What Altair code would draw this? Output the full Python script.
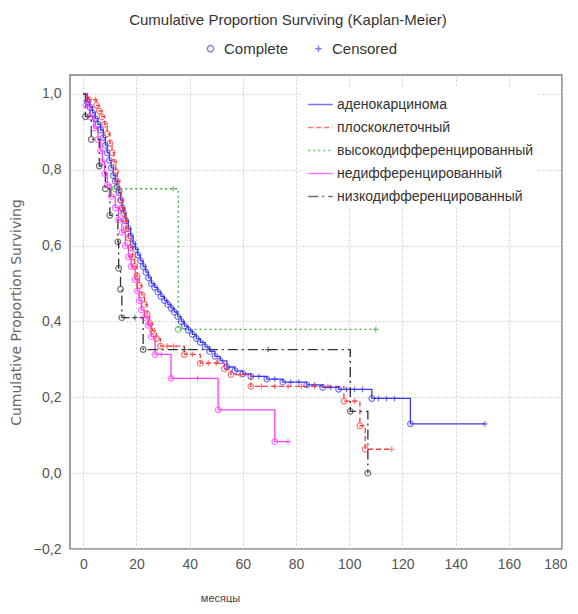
import altair as alt
import pandas as pd

GROUPS = ["аденокарцинома", "плоскоклеточный", "высокодифференцированный",
          "недифференцированный", "низкодифференцированный"]
COLORS = ["#3a3af0", "#ff3c3c", "#3caa3c", "#ff3cff", "#333333"]
DASHES = [[1, 0], [5, 3], [2, 3], [1, 0], [10, 4, 2, 4]]

# status codes: S = start of curve (no marker), C = Complete, X = Censored

# аденокарцинома
ADENO_T = [0, 1.5, 2.5, 3.5, 4.5, 5.5, 6.5, 7.5, 8.3, 9.0, 9.8, 10.5, 11.3, 12.0, 12.7, 13.3,
           14.0, 14.6, 15.2, 16.0, 16.9, 17.8, 18.7, 19.6, 20.5, 21.5, 22.5, 23.5, 24.5, 25.6,
           26.8, 28.0, 29.2, 30.5, 31.8, 33.0, 34.2, 35.5, 36.8, 38.0, 39.5, 41.0, 42.5, 44.0,
           45.8, 47.5, 49.5, 51.5, 54, 57, 60, 63, 66, 69, 72, 75, 78, 81, 84, 87, 90, 93, 96,
           99, 102, 105, 108.5, 111, 114, 117, 123, 151]
ADENO_S = [1.0, 0.98, 0.965, 0.95, 0.935, 0.92, 0.905, 0.885, 0.865, 0.845, 0.825, 0.805, 0.785,
           0.77, 0.755, 0.74, 0.72, 0.70, 0.685, 0.665, 0.645, 0.625, 0.605, 0.59, 0.575, 0.56,
           0.545, 0.53, 0.515, 0.50, 0.49, 0.478, 0.466, 0.455, 0.445, 0.435, 0.425, 0.413, 0.40,
           0.388, 0.377, 0.366, 0.355, 0.345, 0.333, 0.321, 0.308, 0.296, 0.28, 0.27, 0.262,
           0.255, 0.255, 0.248, 0.248, 0.24, 0.24, 0.24, 0.233, 0.233, 0.226, 0.226, 0.221, 0.221,
           0.221, 0.221, 0.197, 0.197, 0.197, 0.197, 0.13, 0.13]
ADENO_ST = ("S" + "CCCCCCCCCC" + "CCCCCCCCCC" + "CCCCCCCCCC" + "CCCCCCCCCC" + "CCCCCCCCC"
            + "CCXCXCXXCXCXCXXXCXXXCX")

# плоскоклеточный
SQ_T = [0, 2, 4.5, 5, 6, 7, 8, 9, 10, 10.8, 11.5, 12.2, 12.8, 13.5, 14.2, 14.8, 15.5, 16.2, 17,
        17.8, 18.5, 19.3, 20.2, 21, 22, 23, 24, 25, 26, 27.5, 29, 31.5, 34, 38, 41, 44, 47, 50,
        53, 55.5, 59, 63, 67, 72, 77, 82, 87, 92, 98, 102, 104, 106, 116]
SQ_S = [1.0, 0.985, 0.985, 0.97, 0.955, 0.94, 0.92, 0.895, 0.87, 0.845, 0.82, 0.795, 0.77, 0.745,
        0.72, 0.695, 0.67, 0.645, 0.62, 0.595, 0.57, 0.545, 0.52, 0.495, 0.47, 0.445, 0.42,
        0.395, 0.375, 0.355, 0.335, 0.335, 0.335, 0.313, 0.313, 0.29, 0.29, 0.29, 0.275, 0.26,
        0.26, 0.229, 0.229, 0.229, 0.229, 0.229, 0.229, 0.229, 0.19, 0.19, 0.125, 0.063, 0.063]
SQ_ST = ("SCX" + "CCCCCCCCCCCCCCCCCCCCCCCCCCCC"
         + "XXCXCXXCCXCXXXXXXCXCCX")

# высокодифференцированный
HI_T = [12, 33.8, 35.7, 110]
HI_S = [0.75, 0.75, 0.379, 0.379]
HI_ST = "CXCX"

# недифференцированный
UN_T = [0, 1, 2.5, 4, 5.5, 6.5, 7.2, 8, 9, 10.5, 12, 13.2, 14.5, 15.8, 17, 18, 19.5, 20.3, 21,
        21.8, 23, 24.4, 25.6, 27, 29.3, 33, 43, 50.7, 72, 77]
UN_S = [1.0, 0.97, 0.94, 0.91, 0.88, 0.85, 0.82, 0.79, 0.76, 0.73, 0.70, 0.668, 0.635, 0.60,
        0.57, 0.545, 0.51, 0.48, 0.455, 0.43, 0.41, 0.39, 0.36, 0.313, 0.313, 0.25, 0.25,
        0.167, 0.083, 0.083]
UN_ST = "S" + "CCCCCCCCCCCCCCCCCCCCCCC" + "XCXCCX"

# низкодифференцированный
LO_T = [0, 0.8, 3, 6, 8.3, 10, 13.0, 13.3, 14, 14.5, 19.4, 22.5, 38, 69.5, 100.4, 107]
LO_S = [1.0, 0.94, 0.88, 0.81, 0.75, 0.68, 0.61, 0.54, 0.485, 0.41, 0.41, 0.326, 0.326, 0.326,
        0.163, 0.0]
LO_ST = "S" + "CCCCCCCCC" + "XCXXCC"

X_TICKS = [0, 20, 40, 60, 80, 100, 120, 140, 160, 180]
Y_TICKS = [-0.2, 0.0, 0.2, 0.4, 0.6, 0.8, 1.0]

STATUS_NAME = {"S": "start", "C": "Complete", "X": "Censored"}

rows = []
for g, T, S, ST in zip(GROUPS, [ADENO_T, SQ_T, HI_T, UN_T, LO_T],
                       [ADENO_S, SQ_S, HI_S, UN_S, LO_S],
                       [ADENO_ST, SQ_ST, HI_ST, UN_ST, LO_ST]):
    n = min(len(T), len(S), len(ST))
    for t, s, st in zip(T[:n], S[:n], ST[:n]):
        rows.append({"group": g, "t": t, "s": s, "status": STATUS_NAME[st]})
df = pd.DataFrame(rows)

FONT = "Liberation Sans"

x_enc = alt.X("t:Q", scale=alt.Scale(domain=[-5, 180], nice=False, zero=False),
              axis=alt.Axis(values=X_TICKS, title="месяцы", titleX=150, titleY=43,
                            titleFontSize=11, titleFontWeight="normal", titleColor="#444",
                            labelFontSize=14, labelColor="#555", labelPadding=8, ticks=False,
                            labelFlush=True, labelFlushOffset=5, domain=False, grid=True))
y_enc = alt.Y("s:Q", scale=alt.Scale(domain=[-0.2, 1.05], nice=False, zero=False),
              axis=alt.Axis(values=Y_TICKS, title="Cumulative Proportion Surviving",
                            labelExpr="replace(format(datum.value, '.1f'), '.', ',')",
                            titleFont="DejaVu Sans", titleFontSize=14, titleFontWeight="normal",
                            titleColor="#666", titleX=-54, titleY=237, titleAlign="center",
                            titleBaseline="middle", labelFontSize=14, labelColor="#555",
                            labelPadding=9, labelFlush=False, ticks=False, domain=False,
                            grid=True))

group_legend = alt.Legend(orient="none", legendX=233, legendY=12, title=None,
                          symbolType="stroke", symbolSize=600, symbolStrokeWidth=1.6,
                          labelFontSize=14, labelColor="#333", labelFont=FONT, labelOffset=3,
                          labelLimit=0, fillColor="white", padding=4, rowPadding=2)

color_enc = alt.Color("group:N", scale=alt.Scale(domain=GROUPS, range=COLORS), legend=group_legend)

lines = alt.Chart(df).mark_line(interpolate="step-after", strokeWidth=1.3).encode(
    x=x_enc, y=y_enc, color=color_enc,
    strokeDash=alt.StrokeDash("group:N", scale=alt.Scale(domain=GROUPS, range=DASHES),
                              legend=group_legend),
    order=alt.Order("t:Q"),
)

points = alt.Chart(df).transform_filter(alt.datum.status != "start").mark_point(
    filled=False, size=32, strokeWidth=1.2).encode(
    x=x_enc, y=y_enc, color=color_enc,
    shape=alt.Shape("status:N",
                    scale=alt.Scale(domain=["Complete", "Censored"],
                                    range=["circle", "M-1,0L1,0M0,-1L0,1"]),
                    legend=alt.Legend(orient="none", legendX=133, legendY=-34,
                                      direction="horizontal", title=None,
                                      symbolStrokeColor="#5050d0", symbolStrokeWidth=1.5,
                                      symbolSize=40, labelFontSize=15, labelColor="#333",
                                      labelFont=FONT, labelOffset=6, columnPadding=22)),
)

chart = alt.layer(lines, points).properties(
    width=492, height=474,
    padding={"left": 1, "top": 5, "right": 0, "bottom": 0},
    title=alt.TitleParams("Cumulative Proportion Surviving (Kaplan-Meier)", fontSize=15,
                          fontWeight="normal", color="#333", font=FONT, anchor="middle",
                          frame="bounds", offset=13),
).configure_view(stroke="#808080", strokeWidth=1.5).configure_axis(
    gridColor="#cfcfcf", gridDash=[2, 2], gridWidth=1, labelFont=FONT, titleFont=FONT
)

chart.save("out.html", embed_options={"renderer": "svg", "actions": False})
